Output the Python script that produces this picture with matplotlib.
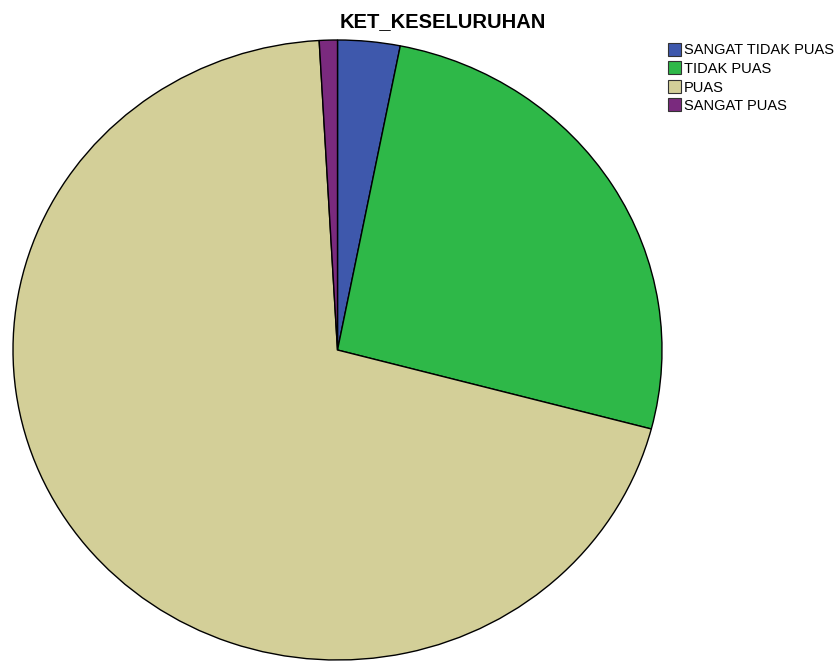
import matplotlib.pyplot as plt
from matplotlib.patches import Rectangle

# Data
labels = ['SANGAT TIDAK PUAS', 'TIDAK PUAS', 'PUAS', 'SANGAT PUAS']
shares = [3.1, 26.0, 70.0, 0.9]
colors = ['#3e58ac', '#2eb848', '#d3cf98', '#7a2a7e']

plt.rcParams['font.family'] = ['Liberation Sans', 'DejaVu Sans']

fig = plt.figure(figsize=(8.36, 6.61), dpi=100)
W, H = 836, 661
ax = fig.add_axes([13 / W, 1 / H, 649 / W, 620 / H])

wedges, _ = ax.pie(shares, colors=colors, startangle=90, counterclock=False,
                   wedgeprops=dict(edgecolor='black', linewidth=1.0))
ax.set_aspect('auto')
ax.set_xlim(-1.0, 1.0)
ax.set_ylim(-1.0, 1.0)

fig.text(443 / W, 1 - 22 / H, 'KET_KESELURUHAN', ha='center', va='center',
         fontsize=14.5, fontweight='bold')

# legend drawn by hand in pixel positions (SPSS style boxes)
for i, (lab, col) in enumerate(zip(labels, colors)):
    yc = 49 + i * 18.5
    fig.add_artist(Rectangle((668 / W, 1 - (yc + 6.5) / H), 13 / W, 13 / H,
                             transform=fig.transFigure, facecolor=col,
                             edgecolor='#333333', linewidth=0.8))
    fig.text(684 / W, 1 - yc / H, lab, ha='left', va='center_baseline', fontsize=10.5)

fig.savefig('out.png', dpi=100)
